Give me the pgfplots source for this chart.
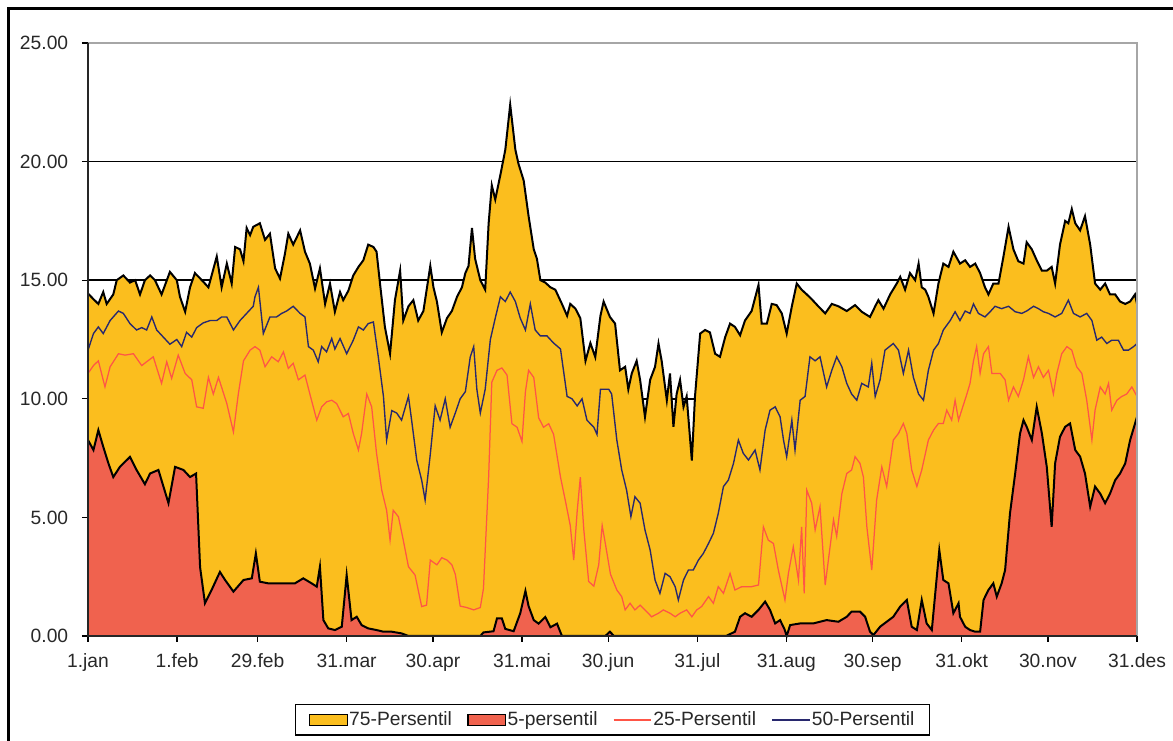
\documentclass[border=0pt]{standalone}
\usepackage{fontspec}
\setmainfont{Liberation Sans}
\usepackage{pgfplots}
\usepackage{pgfplotstable}
\pgfplotsset{compat=1.18}
\definecolor{orangeA}{RGB}{251,190,30}
\definecolor{redA}{RGB}{240,98,78}
\definecolor{lineA}{RGB}{255,85,70}
\definecolor{lineB}{RGB}{40,40,110}
\definecolor{txt}{RGB}{40,40,40}

\pgfplotstableread{
x y
0 14.44
1.9 14.2
3.6 14.0
5.3 14.5
6.5 14.0
8.8 14.4
10.0 15.0
12.3 15.2
14.6 14.9
16.4 15.0
18.1 14.4
19.8 15.0
21.6 15.2
23.3 15.0
25.6 14.4
28.5 15.35
30.9 15.0
32.0 14.3
33.8 13.67
35.5 14.7
37.2 15.3
39.6 15.0
41.9 14.7
44.8 16.0
46.5 14.7
48.3 15.7
50.0 14.86
51.2 16.4
52.9 16.3
54.1 15.8
55.2 17.2
56.4 16.9
57.5 17.25
59.8 17.4
61.6 16.7
63.3 16.96
65.1 15.5
66.8 15.07
68.5 16.1
69.7 16.96
71.4 16.5
73.8 17.1
75.5 16.2
77.2 15.7
79.0 14.65
80.7 15.5
82.5 14.0
84.2 14.86
85.9 13.67
87.7 14.5
88.8 14.16
90.6 14.56
92.3 15.2
94.1 15.56
95.8 15.84
97.5 16.5
99.3 16.4
100.4 16.2
101.6 14.86
103.3 13.03
105.1 11.9
106.8 14.16
108.6 15.4
109.7 13.3
111.5 13.9
113.2 14.16
114.9 13.3
116.7 13.7
119.1 15.6
120.2 14.7
121.4 14.1
123.1 12.8
124.9 13.4
126.6 13.7
128.4 14.3
130.1 14.7
131.3 15.3
132.4 15.6
133.6 17.2
134.7 15.9
136.5 15.0
138.2 14.6
139.4 17.4
140.5 19.0
141.7 18.4
143.5 19.45
145.2 20.5
146.9 22.4
148.7 20.5
149.8 19.9
151.6 19.2
153.3 17.7
155.1 16.3
156.2 15.9
157.4 15.0
159.1 14.9
160.9 14.7
162.6 14.6
164.9 14.0
166.7 13.5
167.8 14.0
169.6 13.8
171.3 13.4
173.1 11.6
174.8 12.35
176.5 11.76
178.3 13.5
179.4 14.1
181.6 13.45
183.4 13.17
185.1 11.2
186.9 11.35
188.0 10.4
189.2 11.07
190.9 11.6
192.1 10.8
193.8 9.24
195.6 10.8
197.3 11.35
198.5 12.33
199.6 11.6
201.4 9.94
202.5 11.07
203.7 8.82
204.8 10.2
206.0 10.8
207.2 9.66
208.3 10.1
210.1 7.4
211.2 10.1
213.0 12.75
214.7 12.9
216.4 12.8
218.2 11.9
219.9 11.77
221.7 12.6
223.4 13.17
225.1 13.03
226.9 12.68
228.6 13.3
230.9 13.7
233.3 14.8
234.4 13.17
236.2 13.17
237.9 14.0
239.6 13.95
241.4 13.6
243.1 12.75
244.9 13.9
246.6 14.86
248.3 14.6
250.1 14.4
251.8 14.2
254.1 13.9
256.5 13.6
258.8 14.0
261.1 13.9
264.0 13.7
266.9 13.95
269.2 13.67
272.1 13.45
273.9 13.9
275.0 14.16
276.8 13.8
279.1 14.4
281.4 14.86
282.6 15.14
284.3 14.6
286.0 15.3
287.8 15.0
289.0 15.7
290.1 14.7
291.3 14.6
292.4 14.3
294.2 13.6
295.9 14.86
297.6 15.7
299.4 15.56
301.1 16.2
303.4 15.7
305.2 15.84
306.9 15.56
308.7 15.7
310.4 15.3
312.1 14.7
313.3 14.4
315.0 14.86
316.8 14.86
318.5 15.98
320.3 17.25
322.0 16.3
323.7 15.8
325.5 15.7
326.6 16.6
328.4 16.3
330.1 15.84
331.9 15.4
333.6 15.4
335.3 15.56
336.5 14.86
338.2 16.5
340.0 17.5
341.1 17.4
342.3 18.0
343.5 17.4
345.2 17.1
346.9 17.7
348.7 16.5
350.4 14.86
352.2 14.6
353.9 14.86
355.6 14.4
357.4 14.4
359.1 14.1
360.9 14.0
362.6 14.1
364.3 14.4
365 14.0
}\pseventyfive

\pgfplotstableread{
x y
0 12.05
1.9 12.75
3.6 13.03
5.3 12.75
7.7 13.3
10.6 13.7
12.3 13.6
14.6 13.17
16.9 12.9
18.7 13.0
20.4 12.9
22.2 13.45
23.9 12.9
26.2 12.6
28.5 12.3
30.9 12.5
32.6 12.2
34.3 12.8
36.1 12.6
37.8 13.0
40.1 13.2
42.5 13.3
44.8 13.3
46.5 13.45
48.3 13.45
50.6 12.9
52.9 13.3
55.2 13.6
57.5 13.9
58.1 14.3
59.3 14.7
61.0 12.75
63.3 13.45
65.6 13.45
67.4 13.6
69.1 13.7
71.4 13.9
73.8 13.6
75.5 13.45
76.7 12.2
78.4 12.05
80.1 11.56
81.3 12.2
83.0 11.98
84.8 12.54
85.9 12.1
87.7 12.54
90.0 11.9
92.3 12.47
94.1 13.03
95.8 12.9
97.5 13.17
99.3 13.24
101.0 11.77
102.8 10.1
103.9 8.26
105.7 9.5
107.4 9.4
109.1 9.1
111.5 10.1
112.6 9.1
114.4 7.4
116.1 6.57
117.3 5.73
119.0 7.55
120.8 9.7
122.5 9.1
124.3 10.0
126.0 8.8
127.8 9.4
129.5 10.0
131.3 10.3
133.0 11.76
134.2 12.2
135.3 10.4
136.5 9.4
138.2 10.4
140.0 12.5
141.7 13.4
143.5 14.3
145.2 14.1
146.9 14.5
148.7 14.1
150.4 13.4
152.2 12.9
153.9 14.0
155.6 12.9
157.4 12.65
159.7 12.65
162.0 12.35
164.4 12.1
166.7 10.1
168.4 10.0
170.2 9.7
171.9 10.0
173.6 9.1
176.0 8.8
177.1 8.5
178.3 10.4
181.2 10.4
182.2 10.2
184.0 8.26
185.7 7.0
187.4 6.15
188.9 5.03
190.3 5.87
192.1 5.6
193.8 4.47
195.6 3.62
197.3 2.36
199.0 1.8
200.8 2.64
202.5 2.5
204.3 2.08
205.4 1.52
207.2 2.36
208.9 2.78
210.6 2.78
212.4 3.2
214.1 3.48
215.9 3.9
217.6 4.33
219.3 5.17
221.1 6.3
222.8 6.57
224.6 7.28
226.3 8.26
228.0 7.7
229.8 7.42
232.1 7.84
233.8 7.0
235.6 8.68
237.3 9.52
239.1 9.66
240.8 9.24
242.0 8.26
243.1 7.56
244.9 9.1
246.0 7.84
247.8 9.94
249.5 10.1
251.2 11.77
253.0 11.6
254.7 11.77
257.0 10.5
258.8 11.2
260.5 11.77
262.3 11.35
264.0 10.65
265.7 10.2
267.5 9.94
269.2 10.65
271.5 10.5
272.7 11.5
273.9 10.1
275.6 10.8
277.3 12.05
280.2 12.33
282.0 12.05
283.7 11.07
285.5 12.05
287.2 10.9
289.0 10.2
290.7 9.94
292.4 11.2
294.2 12.05
295.9 12.33
297.6 12.9
300.0 13.3
301.7 13.67
303.4 13.3
305.2 13.7
306.9 13.6
308.1 14.0
309.8 13.6
312.1 13.45
313.9 13.67
315.6 13.9
317.9 13.8
320.3 13.9
322.6 13.67
324.9 13.6
326.6 13.7
329.0 13.9
330.7 13.8
332.4 13.67
334.2 13.6
336.5 13.45
338.8 13.6
341.1 14.16
342.9 13.6
345.2 13.45
347.5 13.6
349.3 13.3
351.0 12.47
352.7 12.6
354.5 12.33
356.2 12.47
358.5 12.47
360.3 12.05
362.0 12.05
363.8 12.2
365 12.33
}\pfifty

\pgfplotstableread{
x y
0 11.07
1.9 11.4
3.6 11.6
5.9 10.5
7.7 11.35
10.6 11.9
12.9 11.84
15.8 11.9
18.7 11.4
20.4 11.56
22.7 11.77
25.6 10.65
27.4 11.56
29.1 10.86
31.4 11.84
33.8 11.07
36.1 10.8
37.8 9.66
40.1 9.6
41.9 10.9
43.6 10.2
45.4 10.9
48.3 9.8
50.6 8.6
52.3 10.2
54.1 11.6
56.4 12.05
58.1 12.2
59.8 12.05
61.6 11.35
63.9 11.77
66.2 11.56
68.0 11.98
69.7 11.28
71.4 11.5
73.2 10.8
75.5 11.0
77.2 10.2
79.6 9.1
81.3 9.66
83.0 9.87
84.8 9.94
86.5 9.8
88.8 9.24
90.6 9.38
92.3 8.54
94.1 7.84
95.2 8.54
97.0 10.2
98.7 9.66
100.4 7.7
102.2 6.15
103.9 5.3
105.1 4.04
106.2 5.3
108.0 5.03
109.7 4.04
111.5 2.92
113.8 2.57
116.1 1.24
117.8 1.3
119.1 3.2
121.4 3.0
123.1 3.3
124.9 3.2
126.6 3.0
127.8 2.6
129.5 1.26
131.8 1.2
134.2 1.1
136.5 1.2
137.6 2.0
139.4 6.7
140.5 10.7
142.3 11.2
144.0 11.3
145.8 11.0
147.5 8.95
149.3 8.8
151.0 8.2
152.2 10.3
153.3 11.2
155.1 10.9
156.8 9.2
158.5 8.8
160.3 8.95
162.0 8.5
164.4 6.7
166.1 5.7
167.8 4.66
169.0 3.2
170.2 5.25
171.3 6.7
172.5 4.5
174.2 2.3
176.0 2.1
177.7 3.0
178.9 4.66
180.0 3.9
181.8 2.6
184.0 1.94
185.7 1.66
186.9 1.1
188.6 1.38
190.3 1.1
192.1 1.3
193.8 1.1
196.1 0.81
198.5 0.96
200.2 1.1
202.5 0.96
204.3 0.81
206.0 0.96
208.3 1.1
210.1 0.81
211.8 1.1
213.5 1.24
215.9 1.66
217.6 1.38
219.3 2.08
221.1 1.8
223.4 2.64
225.1 1.94
227.5 2.08
230.9 2.08
233.3 2.15
235.0 4.6
236.7 4.04
238.5 3.9
240.2 2.78
242.5 1.52
243.7 2.64
245.4 3.76
247.2 2.36
248.3 4.6
249.2 1.8
250.1 6.15
251.8 5.6
253.0 4.47
254.7 5.45
256.5 2.15
258.2 3.76
259.4 4.9
260.5 4.2
262.3 6.0
264.0 6.85
265.7 7.0
266.9 7.56
268.6 7.28
269.8 6.7
271.0 4.6
272.7 2.78
274.4 5.73
276.2 7.13
277.9 6.3
280.2 8.26
282.0 8.54
283.7 8.96
284.9 8.54
286.6 7.0
288.4 6.3
290.1 7.0
292.4 8.26
294.2 8.68
295.9 8.96
297.6 8.96
298.8 9.52
300.5 9.1
301.7 9.94
302.9 9.1
304.0 9.52
305.8 10.2
306.9 10.65
308.1 11.6
309.2 12.2
310.4 11.07
311.6 11.9
313.3 12.2
314.5 11.07
316.2 11.07
317.4 11.07
319.1 10.8
320.3 9.94
322.0 10.5
323.7 10.1
325.5 10.8
327.2 11.77
329.0 10.9
330.7 11.35
332.4 10.9
334.2 11.2
335.9 10.2
337.1 11.07
338.8 11.9
340.6 12.2
342.3 12.05
344.0 11.35
345.8 11.07
347.5 9.94
349.3 8.26
350.4 9.52
352.2 10.5
353.9 10.2
355.1 10.65
356.2 9.52
358.0 9.94
359.7 10.1
361.4 10.2
363.2 10.5
365 10.1
}\ptwentyfive

\pgfplotstableread{
x y
0 8.26
1.9 7.84
3.6 8.68
5.3 7.98
7.1 7.28
8.8 6.7
11.1 7.13
14.6 7.55
16.9 7.0
19.8 6.4
21.6 6.85
24.5 7.0
28.0 5.6
30.3 7.13
33.2 7.0
35.5 6.7
37.6 6.85
39.0 2.9
40.7 1.38
43.0 1.94
45.9 2.7
47.7 2.36
50.6 1.87
54.1 2.36
57.0 2.43
58.4 3.48
59.8 2.29
62.7 2.22
67.4 2.22
72.0 2.22
74.9 2.43
77.8 2.22
79.6 2.08
80.7 2.92
81.9 0.67
83.6 0.32
85.9 0.25
88.3 0.39
90.0 2.57
91.7 0.67
93.5 0.81
95.2 0.46
97.5 0.32
100.4 0.25
102.8 0.18
105.7 0.18
109.1 0.11
111.5 0
136.5 0
137.6 0.15
141.1 0.2
142.3 0.74
144.0 0.74
145.2 0.3
148.1 0.2
150.4 0.96
152.2 1.9
153.3 1.26
155.1 0.67
156.8 0.52
159.1 0.8
160.9 0.37
163.2 0.52
164.9 0
180.0 0
181.6 0.18
183.0 0
222.0 0
225.1 0.18
226.9 0.81
228.6 0.96
230.9 0.81
233.3 1.1
235.6 1.45
237.3 1.1
239.1 0.53
240.8 0.67
242.3 0.3
243.1 0
244.3 0.46
247.8 0.53
252.4 0.53
257.0 0.67
261.1 0.6
264.0 0.81
265.7 1.03
268.6 1.03
270.4 0.81
272.1 0.18
273.3 0.04
275.6 0.39
277.9 0.6
280.2 0.81
282.6 1.24
284.9 1.52
286.6 0.39
288.4 0.25
290.1 1.52
291.8 0.53
293.6 0.25
296.2 3.62
297.6 2.36
299.4 2.22
301.1 0.96
302.9 1.38
303.4 0.81
305.2 0.39
306.9 0.25
308.7 0.18
310.4 0.18
311.6 1.52
313.3 1.94
315.0 2.22
316.2 1.66
317.9 2.22
319.1 2.78
320.8 5.17
322.6 6.85
324.3 8.54
325.5 9.1
326.6 8.82
328.4 8.26
330.1 9.66
331.9 8.54
333.6 7.13
335.3 4.6
336.5 7.28
338.2 8.4
340.0 8.82
341.7 8.96
343.5 7.84
345.2 7.56
346.9 6.85
348.7 5.45
350.4 6.3
352.2 6.0
353.9 5.6
355.6 6.0
357.4 6.57
359.1 6.85
360.9 7.28
362.6 8.26
365 9.24
}\pfive

\begin{document}
\begin{tikzpicture}[font=\fontsize{7.7}{9}\selectfont\color{txt}]
\path[use as bounding box] (-35.2pt,-42pt) rectangle (434pt,254.4pt);
\begin{axis}[
  at={(0pt,0pt)}, anchor=south west,
  scale only axis, width=419.6pt, height=237.2pt,
  xmin=0, xmax=365, ymin=0, ymax=25,
  axis line style={draw=none},
  xtick={0,31,59,90,120,151,181,212,243,273,304,334,365},
  xticklabels={1.jan,1.feb,29.feb,31.mar,30.apr,31.mai,30.jun,31.jul,31.aug,30.sep,31.okt,30.nov,31.des},
  ytick={0,5,10,15,20},
  extra y ticks={25},
  extra y tick style={grid=none},
  xtick pos=bottom, ytick pos=left,
  tick align=outside, major tick length=2.4pt,
  tick style={black, line width=0.5pt},
  ymajorgrids, grid style={black, line width=0.6pt},
  /pgf/number format/assume math mode=true,
  yticklabel={\pgfmathprintnumber[fixed,fixed zerofill,precision=2]{\tick}},
  yticklabel style={font=\fontsize{7.7}{9}\selectfont\color{txt}, xshift=-2pt},
  xticklabel style={font=\fontsize{7.7}{9}\selectfont\color{txt}, yshift=-1.2pt},
  clip=false,
  legend columns=4,
  legend style={at={(0.5,-0.115)}, anchor=north, draw=black, line width=0.5pt,
    font=\fontsize{7.7}{9}\selectfont\color{txt}, inner xsep=5.5pt, inner ysep=1.5pt,
    /tikz/every even column/.append style={column sep=5.6pt},
    nodes={inner xsep=0.6pt, inner ysep=1pt}},
]
\addplot[fill=orangeA, draw=none, forget plot] table {\pseventyfive} \closedcycle;
\addplot[black, line width=0.8pt, forget plot] table {\pseventyfive};
\addplot[fill=redA, draw=none, forget plot] table {\pfive} \closedcycle;
\addplot[black, line width=0.8pt, forget plot] table {\pfive};
\addplot[lineA, line width=0.5pt, forget plot] table {\ptwentyfive};
\addplot[lineB, line width=0.55pt, forget plot] table {\pfifty};
\addlegendimage{legend image code/.code={\draw[fill=orangeA, draw=black, line width=0.5pt] (0pt,-2.2pt) rectangle (15pt,2.2pt);}}
\addlegendentry{75-Persentil}
\addlegendimage{legend image code/.code={\draw[fill=redA, draw=black, line width=0.5pt] (0pt,-2.2pt) rectangle (15pt,2.2pt);}}
\addlegendentry{5-persentil}
\addlegendimage{legend image code/.code={\draw[lineA, line width=0.5pt] (0pt,0pt) -- (15pt,0pt);}}
\addlegendentry{25-Persentil}
\addlegendimage{legend image code/.code={\draw[lineB, line width=0.5pt] (0pt,0pt) -- (15pt,0pt);}}
\addlegendentry{50-Persentil}
\end{axis}
\draw[gray!70, line width=0.5pt] (0pt,237.2pt) -- (419.6pt,237.2pt) -- (419.6pt,0pt);
\draw[black!85, line width=0.6pt] (0pt,237.2pt) -- (0pt,0pt) -- (419.6pt,0pt);
\draw[black, line width=1.2pt] (-31.6pt,-50pt) -- (-31.6pt,250.8pt) -- (450pt,250.8pt);
\end{tikzpicture}
\end{document}
